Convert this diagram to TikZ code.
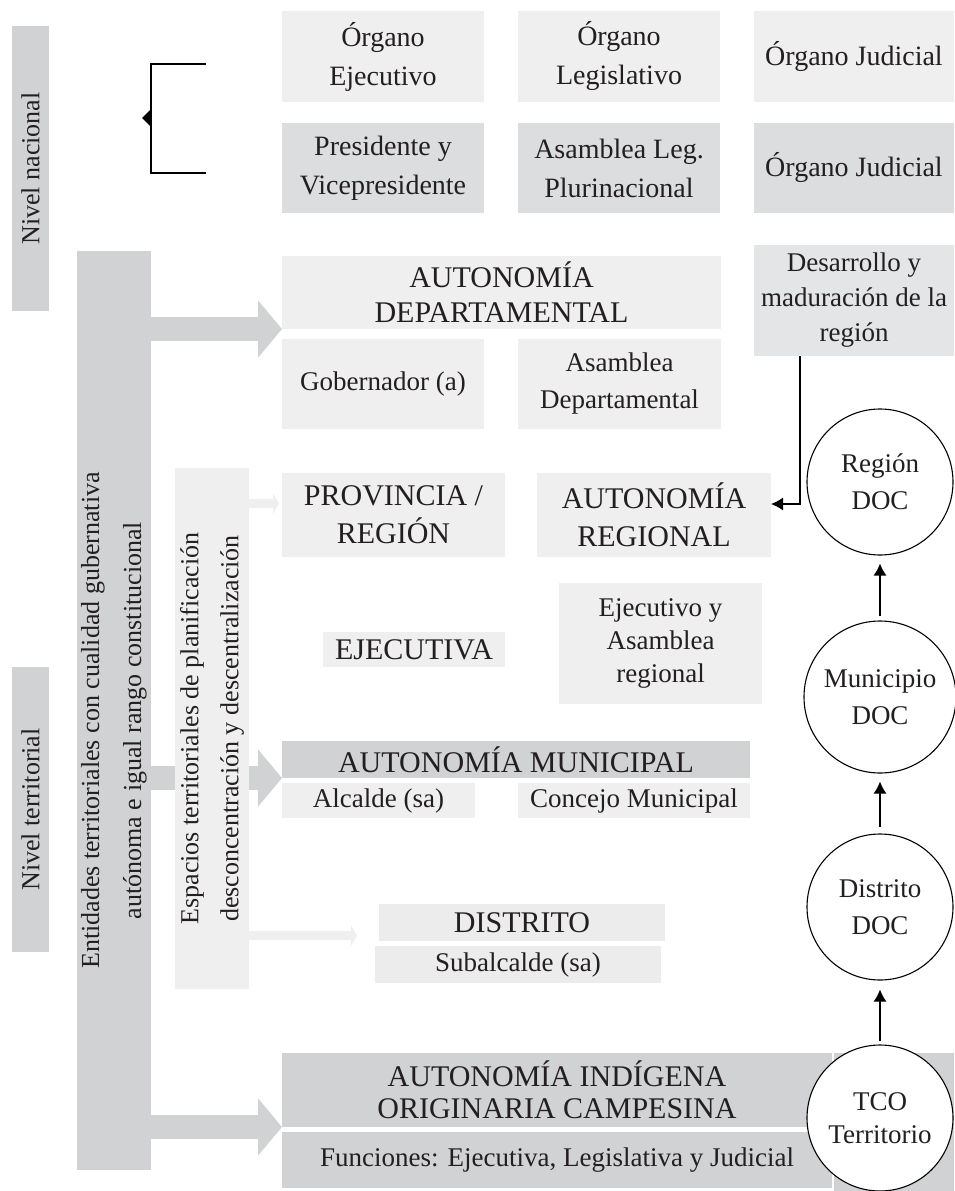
\documentclass[tikz,border=0pt]{standalone}
\usepackage{fontspec}
\setmainfont{Liberation Serif}
\usetikzlibrary{arrows.meta,calc}
\definecolor{dk}{HTML}{D1D2D4}
\definecolor{midg}{HTML}{DCDDDF}
\definecolor{lt}{HTML}{EFEFF0}
\definecolor{dv}{HTML}{E4E5E6}
\definecolor{ds}{HTML}{ECECEC}
\definecolor{tx}{HTML}{231F20}
\newcommand\mkbox[8][]{\node[box, fill=#7, minimum width={#5-#3}, minimum height={#6-#4}, #1] (#2) at ({(#3+#5)/2},{(#4+#6)/2}) {#8};}
\begin{document}
\begin{tikzpicture}[x=1pt,y=-1pt,
  box/.style={rectangle, inner sep=0pt, outer sep=0pt, align=center, text=tx, font=\fontsize{27}{37}\selectfont},
  caps/.style={font=\fontsize{30}{37}\selectfont},
  toprow/.style={font=\fontsize{28}{39}\selectfont},
  rotlabel/.style={rotate=90, align=center, text=tx, inner sep=0pt, font=\fontsize{26}{42}\selectfont},
  doc/.style={circle, draw=black, line width=1.1pt, fill=white, inner sep=0pt, minimum size=146pt, align=center, text=tx, font=\fontsize{27}{37}\selectfont},
  arr/.style={draw=black, line width=1.2pt, -{Latex[length=12pt,width=13pt]}},
  bigarr/.style={draw=dk, line width=24pt, -{Triangle[length=24pt,width=56pt]}},
  smallarr/.style={draw=lt, line width=9pt, -{Triangle[length=6pt,width=20pt]}},
]
\useasboundingbox[fill=white] (0,0) rectangle (954,1191);

% top rows
\mkbox[toprow]{oe}{282}{11}{484}{102}{lt}{Órgano\\Ejecutivo}
\mkbox[toprow]{ol}{518}{11}{720}{102}{lt}{Órgano\\Legislativo}
\mkbox[toprow]{oj}{754}{11}{954}{102}{lt}{Órgano Judicial}
\mkbox[toprow]{pv}{282}{123}{484}{213}{midg}{Presidente y\\Vicepresidente}
\mkbox[toprow]{al}{518}{123}{720}{213}{midg}{Asamblea Leg.\\Plurinacional}
\mkbox[toprow]{oj2}{754}{123}{954}{213}{midg}{Órgano Judicial}

% level bars
\mkbox{nn}{12}{26}{49}{311}{dk}{}
\node[rotlabel] at (nn) {Nivel nacional};
\mkbox{nt}{12}{667}{49}{952}{dk}{}
\node[rotlabel] at (nt) {Nivel territorial};

% bracket
\coordinate (bt) at (206,64);
\coordinate (bb) at (206,173);
\coordinate (bm) at (151,118);
\draw[line width=1.2pt] (bt) -- (bt -| bm) -- (bb -| bm) -- (bb);
\fill[black] (151,109) -- (142,118) -- (151,127) -- cycle;

% entidades bar
\mkbox{ent}{77}{251}{151}{1170}{dk}{}
\node[rotlabel] at ($(ent)+(0,10)$) {Entidades territoriales con cualidad gubernativa\\autónoma e igual rango constitucional};

% boxes that receive big arrows
\mkbox[caps, font=\fontsize{30}{35}\selectfont]{dep}{282}{256}{721}{329}{lt}{AUTONOMÍA\\DEPARTAMENTAL}
\mkbox[caps]{amun}{282}{741}{750}{778}{dk}{AUTONOMÍA MUNICIPAL}
\mkbox[font=\fontsize{30}{32}\selectfont]{ind}{282}{1053}{832}{1127}{dk}{AUTONOMÍA INDÍGENA\\ORIGINARIA CAMPESINA}

% big arrows
\draw[bigarr] (ent.east |- dep.south west) -- (dep.south west);
\draw[bigarr] (ent.east |- amun.south west) -- (amun.south west);
\draw[bigarr] (ent.east |- ind.south west) -- (ind.south west);

% espacios bar
\mkbox{esp}{175}{468}{249}{989}{lt}{}
\node[rotlabel, font=\fontsize{26}{40}\selectfont] at (esp) {Espacios territoriales de planificación\\desconcentración y descentralización};

% other boxes
\mkbox{gob}{282}{339}{484}{429}{lt}{Gobernador (a)}
\mkbox{asd}{518}{339}{721}{429}{lt}{Asamblea\\Departamental}
\mkbox[font=\fontsize{27}{35}\selectfont]{des}{754}{245}{954}{356}{dv}{Desarrollo y\\maduración de la\\región}
\mkbox[caps, font=\fontsize{30}{38}\selectfont]{prov}{282}{473}{505}{557}{lt}{PROVINCIA /\\REGIÓN}
\mkbox[caps, font=\fontsize{30}{38}\selectfont]{areg}{537}{473}{771}{557}{lt}{AUTONOMÍA\\REGIONAL}
\mkbox[caps]{ejec}{323}{632}{505}{667}{lt}{EJECUTIVA}
\mkbox[font=\fontsize{27}{33}\selectfont]{ear}{559}{583}{762}{704}{lt}{Ejecutivo y\\Asamblea\\regional}
\mkbox{alc}{282}{783}{475}{818}{lt}{Alcalde (sa)}
\mkbox{con}{518}{783}{750}{818}{lt}{Concejo Municipal}
\mkbox[caps]{dist}{379}{904}{665}{941}{ds}{DISTRITO}
\mkbox{sub}{375}{946}{661}{983}{ds}{Subalcalde (sa)}
\mkbox{fun}{282}{1132}{832}{1188}{dk}{Funciones: Ejecutiva, Legislativa y Judicial}
\mkbox{indr}{834}{1053}{954}{1191}{dk}{}

% thin arrows from espacios
\coordinate (pa) at ([yshift=11.5pt]prov.west);
\draw[smallarr, shorten >=3pt] (esp.east |- pa) -- (pa);
\coordinate (da) at ([yshift=-13pt]dist.west);
\draw[smallarr, shorten >=22pt] (esp.east |- da) -- (da);

% desarrollo connector
\draw[arr] ([xshift=-54pt]des.south) |- ([yshift=11pt]areg.east);

% circles
\node[doc] (reg) at (880,482) {Región\\DOC};
\node[doc, minimum size=152pt] (mun) at (880,697) {Municipio\\DOC};
\node[doc] (dis) at (880,907) {Distrito\\DOC};
\node[doc, font=\fontsize{27}{33}\selectfont] (tco) at (880,1118) {TCO\\Territorio};

\draw[arr, shorten <=4pt, shorten >=8pt] (mun) -- (reg);
\draw[arr, shorten <=6pt, shorten >=8pt] (dis) -- (mun);
\draw[arr, shorten <=3pt, shorten >=9pt] (tco) -- (dis);
\end{tikzpicture}
\end{document}
